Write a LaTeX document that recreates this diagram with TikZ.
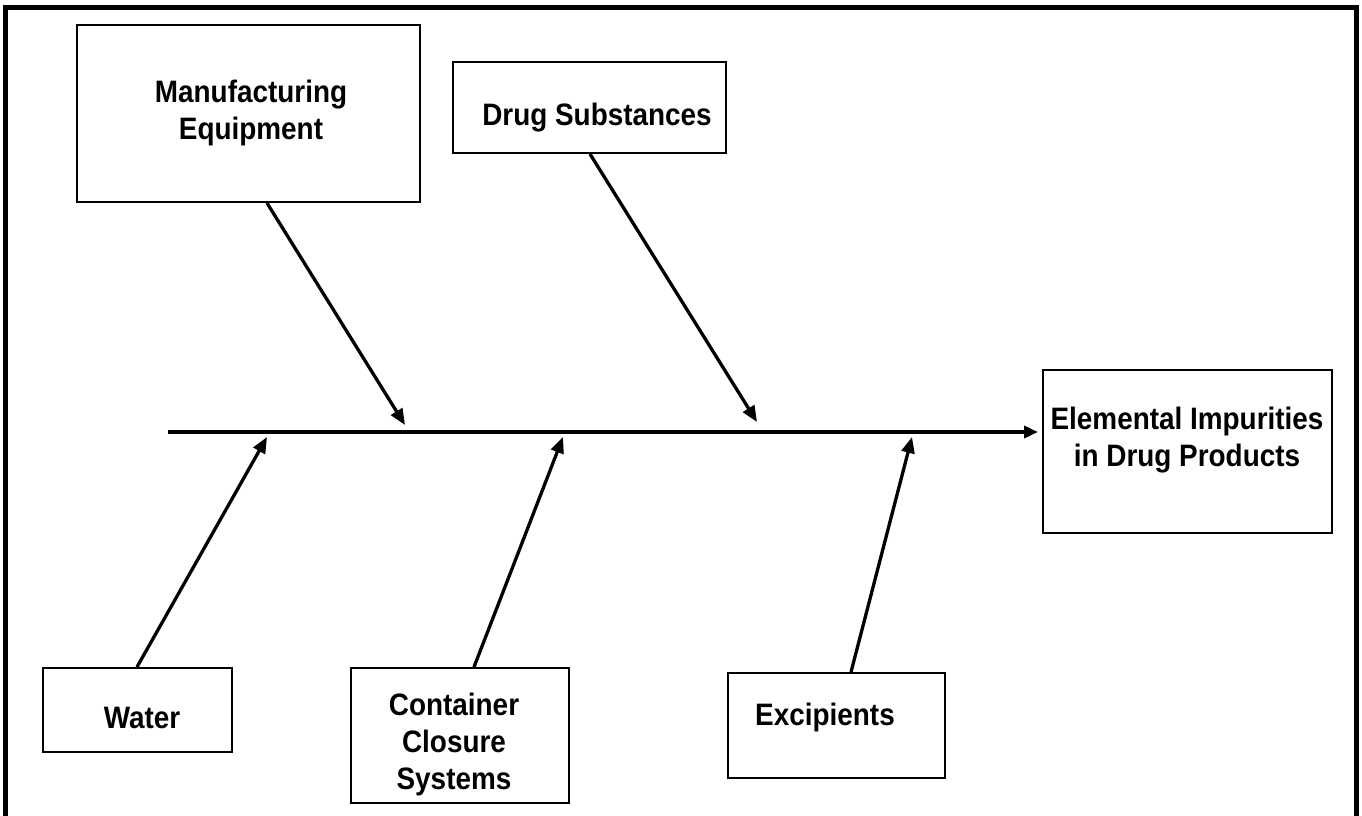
\documentclass[tikz,border=0pt]{standalone}
\usepackage{fontspec}
\setmainfont{Liberation Sans}[FakeStretch=0.9]
\usetikzlibrary{arrows.meta}
\begin{document}
\begin{tikzpicture}[x=1pt,y=-1pt,
  box/.style={draw,line width=2pt,inner sep=0pt},
  txt/.style={font=\fontsize{31}{37}\selectfont\bfseries,align=center,inner sep=0pt},
  arr/.style={line width=3.3pt,-{Triangle[length=16pt,width=13pt]}},
  spinearr/.style={line width=4.5pt,-{Triangle[length=14pt,width=12pt]}}]
\useasboundingbox (0,0) rectangle (1362,816);
% outer frame (no bottom edge)
\draw[line width=5pt] (5,820) -- (5,8) -- (1356,8) -- (1356,820);
% boxes
\node[box,minimum width=343pt,minimum height=177pt] (mfg) at (248.5,113.5) {};
\node[box,minimum width=273pt,minimum height=91pt] (drug) at (589.5,107.5) {};
\node[box,minimum width=289pt,minimum height=163pt] (eip) at (1187.5,451.5) {};
\node[box,minimum width=189pt,minimum height=84pt] (water) at (137.5,710) {};
\node[box,minimum width=218pt,minimum height=135pt] (ccs) at (460,735.5) {};
\node[box,minimum width=217pt,minimum height=105pt] (exc) at (836.5,725.5) {};
% texts
\node[txt] (tmfg) at (251,113) {Manufacturing\\Equipment};
\node[txt] (tdrug) at (597,118) {Drug Substances};
\node[txt] (teip) at (1187,440) {Elemental Impurities\\in Drug Products};
\node[txt] (twater) at (142,718) {Water};
\node[txt] (tccs) at (454,744) {Container\\Closure\\Systems};
\node[txt] (texc) at (825,717) {Excipients};
% spine
\coordinate (s0) at (168,432);
\coordinate (s1) at (1038,432);
\draw[spinearr] (s0) -- (s1);
% branch targets
\coordinate (t1) at (405,425);
\coordinate (t2) at (757,422);
\coordinate (t3) at (267,437);
\coordinate (t4) at (563,437);
\coordinate (t5) at (912,437);
\draw[arr] ([xshift=18.5pt]mfg.south) -- (t1);
\draw[arr] ([xshift=0.5pt]drug.south) -- (t2);
\draw[arr] ([xshift=-0.5pt]water.north) -- (t3);
\draw[arr] ([xshift=14pt]ccs.north) -- (t4);
\draw[arr] ([xshift=14.5pt]exc.north) -- (t5);
\end{tikzpicture}
\end{document}
